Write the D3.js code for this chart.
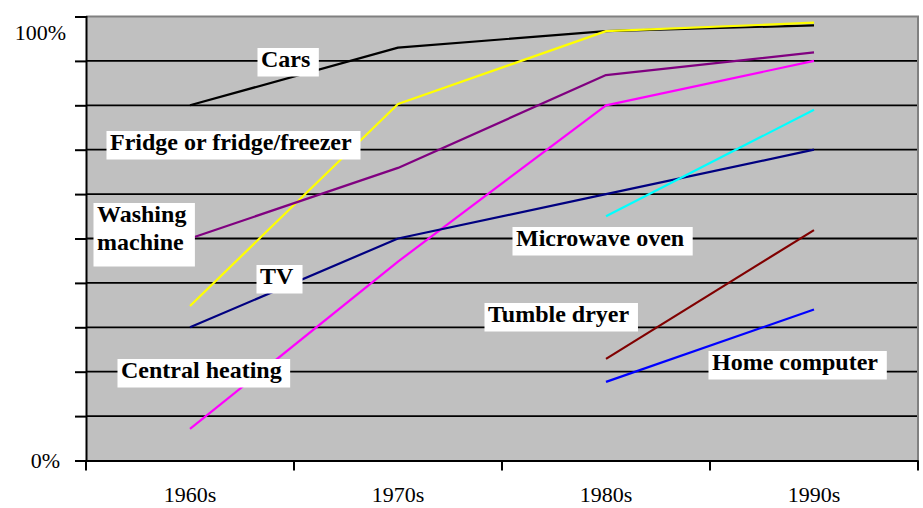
<!DOCTYPE html>
<html>
<head>
<meta charset="utf-8">
<script src="https://cdn.jsdelivr.net/npm/d3@7"></script>
<style>
  html, body { margin: 0; padding: 0; background: #fff; }
  svg { display: block; }
</style>
</head>
<body>
<svg id="chart" width="923" height="508"></svg>
<script>
// Household ownership by decade (% of households)
const decades = ["1960s", "1970s", "1980s", "1990s"];

const seriesNames = [
  "Cars", "Fridge or fridge/freezer", "Washing machine", "Central heating",
  "TV", "Microwave oven", "Tumble dryer", "Home computer"
];
const cars           = [80, 93, 96.7, 98];
const fridgeFreezer  = [34.8, 80.3, 96.7, 98.6];
const washingMachine = [50, 65.9, 86.8, 91.9];
const centralHeating = [7.1, 44.8, 80, 90];
const tv             = [30, 50, 60, 70];
const microwave      = [null, null, 55, 79];
const tumbleDryer    = [null, null, 22.9, 51.9];
const homeComputer   = [null, null, 17.7, 34];

const yTickValues = [0, 10, 20, 30, 40, 50, 60, 70, 80, 90, 100];
const yTickLabels = { 0: "0%", 100: "100%" };

const seriesValues = [cars, fridgeFreezer, washingMachine, centralHeating,
                      tv, microwave, tumbleDryer, homeComputer];
const seriesColors = ["#000000", "#ffff00", "#800080", "#ff00ff",
                      "#000080", "#00ffff", "#800000", "#0000ff"];

// Where each series' caption box sits (text start x, first baseline y)
const captionLayout = [
  { x: 261, y: 67 },
  { x: 110, y: 150 },
  { x: 97,  y: 222, lines: ["Washing", "machine"] },
  { x: 121, y: 378 },
  { x: 260, y: 284 },
  { x: 516, y: 246 },
  { x: 488, y: 322 },
  { x: 712, y: 370 }
];

const serif = "'Liberation Serif', 'Times New Roman', Times, serif";
const svg = d3.select("#chart").style("font-family", serif);
const plot = { left: 86, right: 918, top: 16.5, bottom: 460.5 };

const x = d3.scaleBand().domain(decades).range([plot.left, plot.right]).padding(0);
const y = d3.scaleLinear().domain([0, 100]).range([plot.bottom, plot.top]);

// Plot background
svg.append("rect")
  .attr("x", plot.left).attr("y", plot.top)
  .attr("width", plot.right - plot.left).attr("height", plot.bottom - plot.top)
  .attr("fill", "#c0c0c0");

// Horizontal gridlines
svg.append("g")
  .selectAll("line")
  .data(yTickValues.filter(v => v > 0 && v < 100))
  .join("line")
  .attr("x1", plot.left).attr("x2", plot.right)
  .attr("y1", d => y(d)).attr("y2", d => y(d))
  .attr("stroke", "#000").attr("stroke-width", 1.8);

// Top and right frame
svg.append("path")
  .attr("d", `M${plot.left},${plot.top}H${plot.right}V${plot.bottom}`)
  .attr("fill", "none").attr("stroke", "#808080").attr("stroke-width", 2);

// Series lines
const line = d3.line()
  .defined(d => d.v != null)
  .x(d => x(d.k) + x.bandwidth() / 2)
  .y(d => y(d.v));

svg.append("g")
  .selectAll("path")
  .data(seriesValues.map((vals, i) => ({ i, pts: vals.map((v, j) => ({ k: decades[j], v })) })))
  .join("path")
  .attr("d", d => line(d.pts))
  .attr("fill", "none")
  .attr("stroke", d => seriesColors[d.i])
  .attr("stroke-width", 2.2)
  .attr("stroke-linejoin", "round");

// Y axis
const yAxis = svg.append("g")
  .attr("transform", `translate(${plot.left},0)`)
  .call(d3.axisLeft(y).tickValues(yTickValues).tickSize(11).tickPadding(20)
    .tickFormat(d => yTickLabels[d] || ""))
  .attr("font-family", null);
yAxis.select(".domain").attr("stroke", "#000").attr("stroke-width", 2);
yAxis.selectAll(".tick line").attr("stroke", "#000").attr("stroke-width", 2);
yAxis.selectAll(".tick text")
  .style("font-family", serif)
  .attr("font-size", 22).attr("fill", "#000")
  .attr("dy", d => d === 100 ? "1.05em" : "0.32em")
  .attr("x", d => d === 100 ? -20 : -26);

// X axis
const xAxis = svg.append("g")
  .attr("transform", `translate(0,${plot.bottom})`)
  .call(d3.axisBottom(x).tickSize(0).tickPadding(26))
  .attr("font-family", null);
xAxis.select(".domain").attr("stroke", "#000").attr("stroke-width", 2);
xAxis.selectAll(".tick text")
  .style("font-family", serif)
  .attr("font-size", 22).attr("fill", "#000");

// Category boundary ticks
svg.append("g")
  .selectAll("line")
  .data(d3.range(decades.length + 1))
  .join("line")
  .attr("x1", i => plot.left + i * x.step()).attr("x2", i => plot.left + i * x.step())
  .attr("y1", plot.bottom).attr("y2", plot.bottom + 10)
  .attr("stroke", "#000").attr("stroke-width", 2);

// Series captions in white boxes
const captions = svg.append("g");
seriesNames.forEach((name, i) => {
  const lay = captionLayout[i];
  const lines = lay.lines || [name];
  const g = captions.append("g");
  const box = g.append("rect").attr("fill", "#fff");
  const t = g.append("text")
    .style("font-family", serif)
    .attr("font-size", 24).attr("font-weight", "bold").attr("fill", "#000");
  lines.forEach((ln, j) => {
    t.append("tspan").attr("x", lay.x).attr("y", lay.y + j * 28).text(ln);
  });
  const bb = t.node().getBBox();
  box.attr("x", lay.x - 3.5)
     .attr("y", lay.y - 19)
     .attr("width", bb.width + 12)
     .attr("height", 28.5 + (lines.length - 1) * 28 + (lines.length > 1 ? 7 : 0));
});
</script>
</body>
</html>
